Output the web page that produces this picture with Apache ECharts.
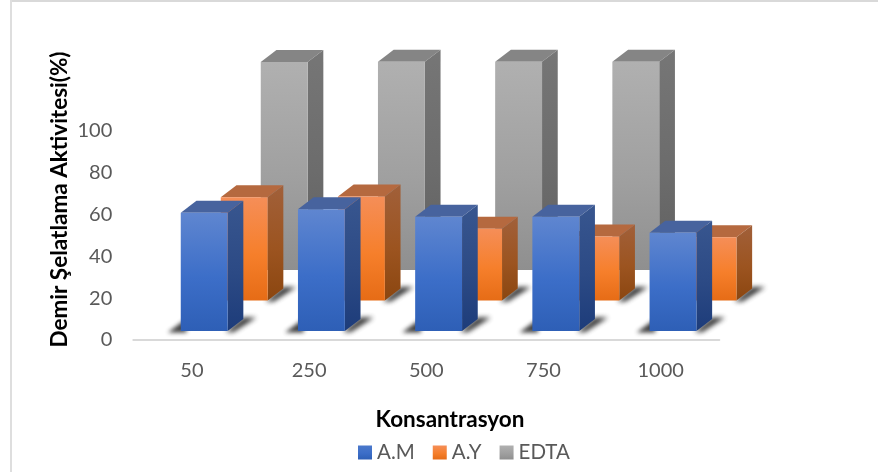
<!DOCTYPE html>
<html>
<head>
<meta charset="utf-8">
<style>html,body{margin:0;padding:0;background:#fff}#c{width:878px;height:472px}</style>
<script src="https://cdn.jsdelivr.net/npm/echarts@6/dist/echarts.min.js"></script>
</head>
<body>
<div id="c"></div>
<script>
const categories = ['50', '250', '500', '750', '1000'];
const seriesAM = [56.6, 58.2, 54.7, 54.7, 47.0];
const seriesAY = [49.4, 49.8, 34.3, 30.6, 30.3];
const seriesEDTA = [99.5, 99.7, 99.7, 99.7, null];
const yTicks = [0, 20, 40, 60, 80, 100];

const FONT = 'Lato, "Open Sans", sans-serif';
const grad = (c0, c1, c2) => new echarts.graphic.LinearGradient(0, 0, 0, 1, [
  { offset: 0, color: c0 }, { offset: 0.55, color: c1 }, { offset: 1, color: c2 }
]);

// Oblique box look: the depth vector of one box and how far each row sits from the axis plane.
const DEPTH_X = 15.7, DEPTH_Y = 12;
const rows = [
  { name: 'A.M', data: seriesAM, dx: 12.3, dy: 9, z: 6, cast: true,
    legend: grad('#4A78CB', '#3C6EC8', '#2E5FB6'),
    front: ['#5F86D0', '#3C6EC8', '#2E5FB6'], side: ['#38568F', '#2C4A85', '#1D3C7A'], top: '#47639E' },
  { name: 'A.Y', data: seriesAY, dx: 52.3, dy: 39.5, z: 4, cast: true,
    legend: grad('#F58E58', '#F67F2B', '#E66C16'),
    front: ['#F58E58', '#F67F2B', '#E66C16'], side: ['#A1603A', '#9C5420', '#8B4610'], top: '#B5693F' },
  // the back row stands on the floor's far edge, so its faces end on one flat line
  { name: 'EDTA', data: seriesEDTA, dx: 92.3, dy: 70, z: 2, cast: false,
    legend: grad('#B0B0B0', '#A0A0A0', '#8F8F8F'),
    front: ['#B0B0B0', '#A0A0A0', '#8F8F8F'], side: ['#767676', '#6C6C6C', '#606060'], top: '#858585' }
];

const OFF = 3000; // shadow-only shapes are drawn off canvas and cast back with a shadow offset

function boxRenderer(row) {
  return function (params, api) {
    if (api.value(1) == null || isNaN(api.value(1))) return null;
    const base = api.coord([api.value(0), 0]);
    const head = api.coord([api.value(0), api.value(1)]);
    const w = api.size([1, 0])[0] * 0.4;
    const xl = base[0] + row.dx - w / 2;
    const xr = xl + w;
    const yb = base[1] - row.dy;
    const yt = head[1] - row.dy;
    const dx = DEPTH_X, dy = DEPTH_Y;
    const poly = (points, fill, extra) => ({
      type: 'polygon', shape: { points }, style: Object.assign({ fill }, extra || {})
    });
    const blurred = (points, blur, alpha) => poly(
      points.map(p => [p[0] - OFF, p[1]]), '#000',
      { shadowBlur: blur, shadowOffsetX: OFF, shadowColor: 'rgba(30,30,30,' + alpha + ')' }
    );
    const children = [];
    if (row.cast) {
      children.push(
        blurred([[xl - 13, yb + 1.5], [xl + 4, yb - 11], [xl + 6, yb + 1.5]], 4, 0.85),
        blurred([[xr - 2, yb + 1], [xr + dx, yb - dy - 1.5], [xr + dx + 13, yb - dy - 1.5], [xr + 6, yb + 1]], 5, 0.9)
      );
    }
    const sideBottom = row.cast ? yb - dy : yb;
    children.push(
      poly([[xl, yt], [xl + dx, yt - dy], [xr + dx, yt - dy], [xr, yt]], row.top),
      poly([[xr, yt], [xr + dx, yt - dy], [xr + dx, sideBottom], [xr, yb]], grad(...row.side)),
      poly([[xl, yt], [xr, yt], [xr, yb], [xl, yb]], grad(...row.front))
    );
    return { type: 'group', children };
  };
}

const titleStyle = {
  fill: '#000', fontWeight: 'bold', fontSize: 22.5, fontFamily: FONT,
  align: 'center', verticalAlign: 'middle'
};

const option = {
  animation: false,
  textStyle: { fontFamily: FONT },
  legend: {
    left: 353, top: 437, itemGap: 18, itemWidth: 14, itemHeight: 14,
    icon: 'rect',
    textStyle: { color: '#595959', fontSize: 20.5, fontFamily: FONT },
    data: rows.map(r => r.name)
  },
  grid: { left: 133.3, right: 158.7, top: 131, bottom: 132 },
  xAxis: {
    type: 'category',
    data: categories,
    axisLine: { lineStyle: { color: '#D9D9D9', width: 2 } },
    axisTick: { show: false },
    axisLabel: { color: '#595959', fontSize: 20, margin: 21, fontFamily: FONT }
  },
  yAxis: {
    type: 'value',
    min: yTicks[0],
    max: yTicks[yTicks.length - 1],
    interval: 20,
    axisLine: { show: false },
    axisTick: { show: false },
    splitLine: { show: false },
    axisLabel: { color: '#595959', fontSize: 20, margin: 21, fontFamily: FONT }
  },
  graphic: [
    // chart frame: only its top and left edges fall inside the page
    {
      type: 'line', silent: true,
      shape: { x1: 10, y1: 1, x2: 878, y2: 1 },
      style: { stroke: '#D9D9D9', lineWidth: 2 }
    },
    {
      type: 'line', silent: true,
      shape: { x1: 11, y1: 0, x2: 11, y2: 472 },
      style: { stroke: '#DEDEDE', lineWidth: 2 }
    },
    {
      type: 'text', x: 60, y: 199.5, rotation: Math.PI / 2, silent: true,
      style: Object.assign({ text: 'Demir Şelatlama Aktivitesi(%)' }, titleStyle)
    },
    {
      type: 'text', x: 450, y: 420, silent: true,
      style: Object.assign({ text: 'Konsantrasyon' }, titleStyle)
    }
  ],
  series: rows.map(row => ({
    type: 'custom',
    name: row.name,
    z: row.z,
    clip: false,
    silent: true,
    coordinateSystem: 'cartesian2d',
    itemStyle: { color: row.legend },
    encode: { x: 0, y: 1 },
    data: row.data.map((v, i) => [i, v]),
    renderItem: boxRenderer(row)
  }))
};

echarts.init(document.getElementById('c'), null, { renderer: 'canvas' }).setOption(option);
</script>
</body>
</html>
